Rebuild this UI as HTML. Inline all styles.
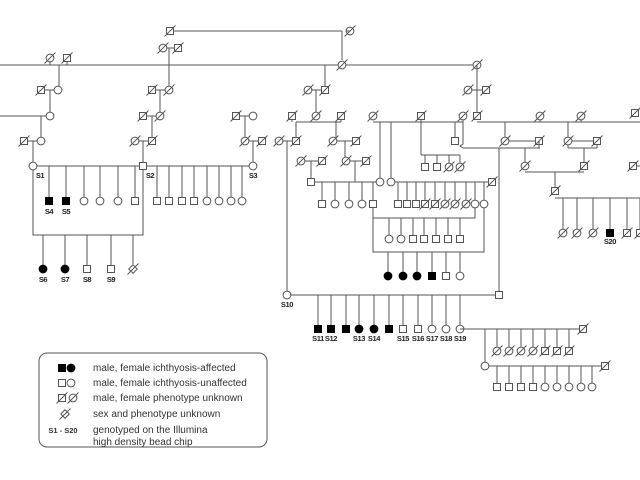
<!DOCTYPE html>
<html><head><meta charset="utf-8"><style>
html,body{margin:0;padding:0;background:#fff;}
svg{display:block;}
text{font-family:"Liberation Sans",Arial,sans-serif;}
</style></head><body>
<svg id="s" width="640" height="480" viewBox="0 0 640 480" xmlns="http://www.w3.org/2000/svg">
<g id="g" stroke="#555" stroke-width="1" fill="none"></g>
<g font-size="7.5" font-weight="bold" fill="#222" text-anchor="middle" letter-spacing="-0.4">
<text x="40" y="178">S1</text><text x="150" y="178">S2</text><text x="253" y="178">S3</text>
<text x="49" y="214">S4</text><text x="66" y="214">S5</text>
<text x="43" y="282">S6</text><text x="65" y="282">S7</text><text x="87" y="282">S8</text><text x="111" y="282">S9</text>
<text x="287" y="307">S10</text>
<text x="318" y="341">S11</text><text x="331" y="341">S12</text><text x="359" y="341">S13</text><text x="374" y="341">S14</text>
<text x="403" y="341">S15</text><text x="418" y="341">S16</text><text x="432" y="341">S17</text><text x="446" y="341">S18</text><text x="460" y="341">S19</text>
<text x="610" y="244">S20</text>
</g>
<rect x="39" y="353" width="228" height="94" rx="8" ry="8" fill="none" stroke="#555" stroke-width="1"/>
<g font-size="10" fill="#333">
<text x="93" y="371">male, female ichthyosis-affected</text>
<text x="93" y="386">male, female ichthyosis-unaffected</text>
<text x="93" y="401">male, female phenotype unknown</text>
<text x="93" y="417">sex and phenotype unknown</text>
<text x="93" y="433">genotyped on the Illumina</text>
<text x="93" y="445">high density bead chip</text>
<text x="63" y="433" font-size="7.5" font-weight="bold" text-anchor="middle">S1 - S20</text>
</g>
</svg>
<script>
var g=document.getElementById('g'),NS='http://www.w3.org/2000/svg';
function el(t,a){var e=document.createElementNS(NS,t);for(var k in a)e.setAttribute(k,a[k]);g.appendChild(e);return e;}
function L(x1,y1,x2,y2){el('line',{x1:x1,y1:y1,x2:x2,y2:y2});}
function P(d){el('polyline',{points:d});}
var H=3.5,R=3.9;
function N(x,y,t){
 var f='#fff';
 if(t[0]=='s'||t[0]=='S'){el('rect',{x:x-H,y:y-H,width:2*H,height:2*H,fill:t[0]=='S'?'#000':f,stroke:t[0]=='S'?'#000':'#555'});}
 else if(t[0]=='c'||t[0]=='C'){el('circle',{cx:x,cy:y,r:R,fill:t[0]=='C'?'#000':f,stroke:t[0]=='C'?'#000':'#555'});}
 else if(t[0]=='u'){el('rect',{x:x-3,y:y-3,width:6,height:6,fill:f,transform:'rotate(45 '+x+' '+y+')'});}
 if(t[1]=='d'||t[0]=='u'){L(x-5.5,y+5.5,x+5.5,y-5.5);}
}
function sib(y,xs,ts,ytop){for(var i=0;i<xs.length;i++){L(xs[i],ytop,xs[i],y-R);N(xs[i],y,ts[i]);}}
L(170,31,342,31);L(342,31,342,60);N(170,31,'sd');N(350,31,'cd');L(346,31,350,31);
L(163,48,178,48);L(169,48,169,65);N(163,48,'cd');N(178,48,'sd');
L(0,65,477,65);N(342,65,'cd');N(477,65,'cd');
L(50,62,50,65);L(67,62,67,65);N(50,58,'cd');N(67,58,'sd');
L(59,65,59,90);L(41,90,58,90);N(41,90,'sd');N(58,90,'c');
L(50,90,50,112);L(0,116,46,116);N(50,116,'c');
L(41,116,41,141);L(24,141,41,141);N(24,141,'sd');N(41,141,'c');
L(33,141,33,166);
L(169,65,169,90);L(152,90,169,90);N(152,90,'sd');N(169,90,'cd');
L(160,90,160,116);L(143,116,160,116);N(143,116,'sd');N(160,116,'cd');
L(152,116,152,141);L(135,141,152,141);N(135,141,'cd');N(152,141,'sd');
L(143,141,143,166);
L(236,116,253,116);N(236,116,'sd');N(253,116,'c');
L(245,116,245,141);L(245,141,262,141);N(245,141,'cd');N(262,141,'sd');
L(253,141,253,166);
L(33,166,253,166);N(33,166,'c');N(143,166,'s');N(253,166,'c');
sib(201,[49,66,84,100,118,135],['S','S','c','c','c','s'],166);
sib(201,[157,169,182,194,207,219,231,242],['s','s','s','s','c','c','c','c'],166);
P('33,170 33,235 143,235 143,170');
sib(269,[43,65,87,111],['C','C','s','s'],235);L(133,235,133,264);N(133,269,'u');
L(325,65,325,90);L(308,90,325,90);N(308,90,'cd');N(325,90,'sd');
L(316,90,316,112);L(296,122,341,122);L(292,120,292,122);L(341,120,341,122);
N(292,116,'sd');N(316,116,'cd');N(341,116,'sd');
L(296,122,296,141);L(279,141,296,141);N(279,141,'cd');N(296,141,'sd');
L(287,141,287,291);
L(336,122,336,141);L(333,141,356,141);N(333,141,'cd');N(356,141,'sd');
L(345,141,345,161);L(346,161,366,161);N(346,161,'cd');N(366,161,'sd');L(355,161,355,182);
L(301,161,322,161);N(301,161,'cd');N(322,161,'sd');L(311,161,311,182);
L(311,182,380,182);N(311,182,'s');
sib(204,[322,335,349,362,373],['s','c','c','c','s'],182);
L(373,122,463,122);N(373,116,'cd');N(421,116,'sd');N(463,116,'cd');
L(380,122,380,178);L(391,122,391,178);N(380,182,'c');
L(391,182,492,182);N(391,182,'c');N(492,182,'sd');
sib(204,[398,407,416,425,435,445,455,466,475,484],['s','s','s','sd','sd','cd','cd','cd','c','c'],182);
P('373,207 373,218 475,218 475,208');
sib(239,[389,401,413,424,436,448,460],['c','c','s','s','s','s','s'],218);
P('373,218 373,252 484,252 484,208');
sib(276,[388,403,417,432,446,460],['C','C','C','S','s','c'],252);
L(421,120,421,155);L(421,155,460,155);
sib(167,[425,437,449,460],['s','s','cd','cd'],155);
L(455,122,455,137);N(455,141,'s');
P('463,120 463,144 460,146 463,148');L(463,148,540,148);
L(499,148,499,291);
L(287,295,499,295);N(287,295,'c');N(499,295,'s');
sib(329,[318,331,346,359,374,389,403,418,432,446,460],['S','S','S','C','C','S','s','s','c','c','c'],295);
L(460,329,583,329);N(583,329,'sd');
sib(351,[497,509,521,533,545,557,569],['cd','cd','cd','cd','sd','sd','sd'],329);
L(485,329,485,362);L(485,366,605,366);N(485,366,'c');N(605,366,'sd');
sib(387,[497,509,521,533,545,557,569,581,592],['s','s','s','s','c','c','c','c','c'],366);
L(477,65,477,90);L(468,90,486,90);N(468,90,'cd');N(486,90,'sd');
L(477,90,477,116);L(477,122,640,122);N(477,116,'sd');
L(540,120,540,122);L(581,120,581,122);N(540,116,'cd');N(581,116,'cd');N(635,113,'sd');
L(505,122,505,137);L(505,141,539,141);N(505,141,'cd');N(539,141,'sd');
L(539,141,539,148);
L(568,122,568,141);L(568,141,597,141);L(568,148,597,148);L(597,141,597,148);L(568,141,568,148);
N(568,141,'cd');N(597,141,'sd');
L(525,148,525,162);N(525,166,'cd');L(584,148,584,162);N(584,166,'sd');
L(525,172,584,172);L(555,172,555,187);N(555,191,'sd');
L(555,198,640,198);L(633,166,640,166);N(633,166,'sd');
sib(233,[563,577,593,610,627,640],['cd','cd','cd','S','sd','sd'],198);
N(62,368,'S');N(71,368,'C');N(62,383,'s');N(71,383,'c');N(62,398,'sd');N(73,398,'cd');N(65,414,'u');
</script>
</body></html>
